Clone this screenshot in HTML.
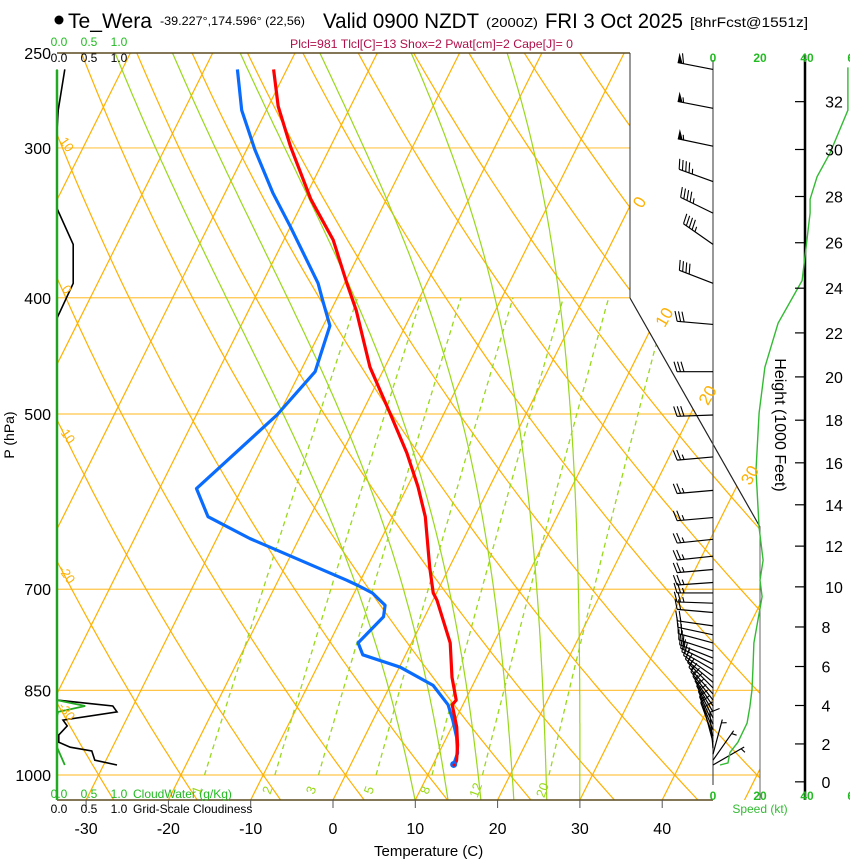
<!DOCTYPE html>
<html><head><meta charset="utf-8"><title>Skew-T Te_Wera</title>
<style>
html,body{margin:0;padding:0;background:#fff;}
svg{display:block;font-family:"Liberation Sans",Arial,sans-serif;}
</style></head>
<body>
<svg id="chart" width="850" height="860" viewBox="0 0 850 860" xmlns="http://www.w3.org/2000/svg">
<defs>
<clipPath id="plotClip"><polygon points="57,53 630,53 630,298 760,527 760,800 57,800"/></clipPath>
</defs>
<g id="title">
<circle cx="59" cy="20" r="4.5" fill="#000"/>
<text x="68" y="28" font-size="21" textLength="84" lengthAdjust="spacingAndGlyphs">Te_Wera</text>
<text x="160" y="25" font-size="12" textLength="145" lengthAdjust="spacingAndGlyphs">-39.227°,174.596° (22,56)</text>
<text x="323" y="28" font-size="21" textLength="156" lengthAdjust="spacingAndGlyphs">Valid 0900 NZDT</text>
<text x="486" y="27" font-size="13" textLength="52" lengthAdjust="spacingAndGlyphs">(2000Z)</text>
<text x="545" y="28" font-size="21" textLength="138" lengthAdjust="spacingAndGlyphs">FRI 3 Oct 2025</text>
<text x="690" y="27" font-size="14" textLength="118" lengthAdjust="spacingAndGlyphs">[8hrFcst@1551z]</text>
<text x="290" y="48" font-size="12" fill="#b0104a" textLength="283" lengthAdjust="spacingAndGlyphs">Plcl=981 Tlcl[C]=13 Shox=2 Pwat[cm]=2 Cape[J]= 0</text>
</g>
<g id="grid" clip-path="url(#plotClip)"></g>
<g id="frame"></g>
<g id="series"></g>
<g id="wind"></g>
<g id="labels"></g>
</svg>
<script>
// ---------- data ----------
const pressureTicks = [250, 300, 400, 500, 700, 850, 1000];
const tempTicks = [-30, -20, -10, 0, 10, 20, 30, 40];
const isotherms = [-120,-110,-100,-90,-80,-70,-60,-50,-40,-30,-20,-10,0,10,20,30,40,50];
const dryAdiabatsC = [-50,-40,-30,-20,-10,0,10,20,30,40,50,60,70,80,90,100,110,120,130,140,150,160,170,180];
const moistStartC = [10, 14, 18, 22, 26, 30];
const mixRatios = [1, 2, 3, 5, 8, 12, 20];
const mixLabels = ["1","2","3","5","8","12","20"];
const tempP = [258,277,299,331,358,389,410,457,499,539,575,609,671,705,715,776,829,866,874,912,944,972,981];
const tempC = [-51.6,-48.8,-44.9,-39.2,-34.0,-29.7,-26.9,-21.8,-16.6,-12.1,-8.7,-6.0,-2.4,-0.4,0.5,4.7,7.0,8.9,8.7,10.6,11.8,12.6,12.7];
const dewP = [258,279,301,327,349,389,402,422,461,501,577,609,635,688,695,705,722,738,776,794,813,842,874,900,930,959,980];
const dewC = [-56.0,-53.0,-49.0,-44.2,-40.0,-33.2,-31.6,-29.2,-28.2,-30.2,-35.5,-32.4,-26.0,-11.7,-10.0,-7.8,-5.5,-5.0,-6.5,-5.2,0.1,5.2,8.2,9.7,11.2,12.3,12.5];
const windP = [258,278,299,320,340,361,389,421,461,501,543,579,610,636,657,674,691,705,719,732,751,764,776,788,799,808,817,827,837,846,856,866,876,886,896,907,917,928,939,950,961,972,981];
const windDir = [281,281,282,290,296,305,291,275,270,268,265,265,265,264,264,265,266,270,272,275,278,282,285,288,292,296,300,305,310,315,318,322,326,330,333,336,338,340,345,355,15,35,60];
const windSpd = [60,55,55,45,45,45,40,30,30,30,25,25,25,25,25,25,25,25,25,20,20,20,20,20,20,20,20,20,15,15,15,15,15,15,15,15,15,10,10,10,5,5,5];
const speedP = [981,977,958,939,905,877,849,813,776,743,710,688,662,622,557,499,457,420,387,370,340,331,317,303,279,257];
const speedKt = [3.0,6.4,7.2,10.6,14.5,15.7,16.6,17.0,17.4,19.1,20.9,20.0,21.3,19.6,18.3,19.6,22.1,27.7,37.9,39.1,41.3,41.3,44.3,49.8,57.4,57.4];
const heightTicksKft = [0,2,4,6,8,10,12,14,16,18,20,22,24,26,28,30,32];
const speedTicks = [0, 20, 40, 60];
const cloudScale = ["0.0","0.5","1.0"];
const cloudScaleVals = [0, 0.5, 1.0];
const cloudP = [258,279,290,337,361,389,416,866,876,886,900,910,926,939,948,955,972,981];
const cloudFrac = [0.13,0.02,0,0,0.27,0.27,0,0,0.93,1.0,0.1,0.17,0.03,0.03,0.22,0.58,0.63,1.0];
const cwP = [258,866,876,886,893,948,981];
const cwVal = [0,0,0.47,0.02,0,0,0.13];

// ---------- axes ----------
const NS = "http://www.w3.org/2000/svg";
function yP(p){ return 53 + 520.8*Math.log(p/250); }
function xT(T,p){ return 333 + 8.23*T + 0.5*(800 - yP(p)); }
function xT_y(T,y){ return 333 + 8.23*T + 0.5*(800 - y); }
function xCloud(v){ return 57 + 60*v; }
function xSpd(s){ return 713 + 2.35*s; }
function pFromKft(h){ const m=h*304.8; return 1013.25*Math.pow(1-6.5e-3*m/288.15,5.256); }
function mk(tag, attrs, parent){ const e=document.createElementNS(NS,tag); for(const k in attrs) e.setAttribute(k,attrs[k]); parent.appendChild(e); return e; }
function pathD(pts){ return pts.map((q,i)=>(i?"L":"M")+q[0].toFixed(1)+","+q[1].toFixed(1)).join(""); }
const grid=document.getElementById("grid"), frame=document.getElementById("frame"), series=document.getElementById("series"), wind=document.getElementById("wind"), labels=document.getElementById("labels");
const ORANGE="#ffb000", GREEN="#99d81a";

pressureTicks.forEach(p=>{
  if(p===250) return;
  const l=mk("line",{x1:57,x2:760,y1:yP(p),y2:yP(p),stroke:"#ffc54a","stroke-width":1.2},grid);
  
  
});
isotherms.forEach(T=>{
  const l=mk("line",{x1:xT_y(T,800),y1:800,x2:xT_y(T,53),y2:53,stroke:ORANGE,"stroke-width":1.2},grid);
  
  
});
dryAdiabatsC.forEach(th=>{
  const pts=[]; for(let p=1060;p>=245;p-=10){ const T=(th+273.15)*Math.pow(p/1000,0.286)-273.15; pts.push([xT(T,p),yP(p)]); }
  const l=mk("path",{d:pathD(pts),fill:"none",stroke:ORANGE,"stroke-width":1.2},grid);
  
  
});
function esat(Tc){ return 6.112*Math.exp(17.67*Tc/(Tc+243.5)); }
moistStartC.forEach(t0=>{
  let T=t0+273.15, p=1050; const pts=[[xT(t0,p),yP(p)]];
  while(p>245){ const e=esat(T-273.15), rs=0.622*e/(p-e);
    const dTdp=(287*T+2.5e6*rs)/(p*(1004+2.5e6*2.5e6*rs*0.622/(287*T*T)));
    T-=dTdp*2; p-=2; pts.push([xT(T-273.15,p),yP(p)]); }
  const l=mk("path",{d:pathD(pts),fill:"none",stroke:GREEN,"stroke-width":1.2},grid);
  
  
});
mixRatios.forEach((w,i)=>{
  const pts=[]; for(let p=1000;p>=400;p-=10){ const e=w*p/(622+w), L=Math.log(e/6.112), Td=243.5*L/(17.67-L); pts.push([xT(Td,p),yP(p)]); }
  const l=mk("path",{d:pathD(pts),fill:"none",stroke:GREEN,"stroke-width":1.3,"stroke-dasharray":"5,4"},grid);
  
  
  const e=w*1030/(622+w), L=Math.log(e/6.112), Td=243.5*L/(17.67-L);
  const x=xT(Td,1030)-2, y=yP(1030);
  const t=mk("text",{x:x,y:y,"font-size":13,fill:GREEN,"text-anchor":"middle","dominant-baseline":"middle",transform:"rotate(-70 "+x+" "+y+")"},labels);
  t.textContent=mixLabels[i];
  
  
});

[[57,53,630,53,"#5a4a20",1.5],[630,53,630,298,"#333",1],[630,298,760,527,"#222",1.2],[760,527,760,800,"#666",1],[57,800,713,800,"#5a4a20",1.5],[713,60,713,785,"#555",1.2],[805,55,805,800,"#000",2.5]].forEach((a,i)=>{
  const l=mk("line",{x1:a[0],y1:a[1],x2:a[2],y2:a[3],stroke:a[4],"stroke-width":a[5]},frame);
  
  
});
const cax=mk("line",{x1:57,y1:70,x2:57,y2:800,stroke:"#22aa22","stroke-width":2.5},frame);



pressureTicks.forEach(p=>{
  const t=mk("text",{x:51,y:yP(p)+6,"font-size":16,"text-anchor":"end"},labels);
  t.textContent=p;
  
  
});
tempTicks.forEach(T=>{
  const x=xT_y(T,800);
  const l=mk("line",{x1:x,x2:x,y1:800,y2:808,stroke:"#555","stroke-width":1},labels);
  
  
  const t=mk("text",{x:x,y:834,"font-size":16,"text-anchor":"middle"},labels);
  t.textContent=T;
  
  
});
[[0,205],[10,320],[20,398],[30,478]].forEach(a=>{
  const x=xT_y(a[0],a[1])+14, y=a[1];
  const t=mk("text",{x:x,y:y,"font-size":17,fill:ORANGE,"text-anchor":"middle",transform:"rotate(-60 "+x+" "+y+")"},labels);
  t.textContent=a[0];
  
  
});
[[10,145],[0,290],[-10,435],[-20,575],[-30,712]].forEach(a=>{
  const x=66, y=a[1];
  const t=mk("text",{x:x,y:y,"font-size":13,fill:ORANGE,"text-anchor":"middle","dominant-baseline":"middle",transform:"rotate(55 "+x+" "+y+")"},labels);
  t.textContent=a[0];
  
  
});

// cloud scale labels (top & bottom)
cloudScale.forEach((s,i)=>{
  const x=xCloud(cloudScaleVals[i])+2;
  [[46,"#22bb22","cloudwater-scale-top-"],[62,"#000","cloudiness-scale-top-"],[798,"#22bb22","cloudwater-scale-bottom-"],[813,"#000","cloudiness-scale-bottom-"]].forEach(r=>{
    const t=mk("text",{x:x,y:r[0],"font-size":12,fill:r[1],"text-anchor":"middle"},labels);
    t.textContent=s;
    
    
  });
});

const cp=mk("path",{d:pathD(cloudP.map((p,i)=>[xCloud(cloudFrac[i]),yP(p)])),fill:"none",stroke:"#000","stroke-width":1.6},series);


const cw=mk("path",{d:pathD(cwP.map((p,i)=>[xCloud(cwVal[i]),yP(p)])),fill:"none",stroke:"#22aa22","stroke-width":1.8},series);



const dl=mk("path",{d:pathD(dewP.map((p,i)=>[xT(dewC[i],p),yP(p)])),fill:"none",stroke:"#0a6cff","stroke-width":3.2,"stroke-linejoin":"round"},series);


const tl=mk("path",{d:pathD(tempP.map((p,i)=>[xT(tempC[i],p),yP(p)])),fill:"none",stroke:"#ff0000","stroke-width":3.2,"stroke-linejoin":"round"},series);


const sd=mk("circle",{cx:xT(dewC[dewC.length-1],dewP[dewP.length-1]),cy:yP(dewP[dewP.length-1]),r:3.5,fill:"#0a6cff"},series);


const st=mk("circle",{cx:xT(tempC[tempC.length-1],tempP[tempP.length-1])-1,cy:yP(tempP[tempP.length-1]),r:1.5,fill:"#ff0000"},series);



windP.forEach((p,i)=>{
  const g=mk("g",{},wind);
  
  
  const d=windDir[i]*Math.PI/180, ux=Math.sin(d), uy=-Math.cos(d), L=36;
  const bx=713, by=yP(p), tx=bx+ux*L, ty=by+uy*L;
  mk("line",{x1:bx,y1:by,x2:tx,y2:ty,stroke:"#000","stroke-width":1.2},g);
  const px=-uy, py=ux;
  let s=Math.round(windSpd[i]/5)*5, pos=0;
  while(s>=50){ const ax=tx-ux*pos, ay=ty-uy*pos, cx=tx-ux*(pos+5), cy=ty-uy*(pos+5);
    mk("polygon",{points:ax+","+ay+" "+(ax+px*10)+","+(ay+py*10)+" "+cx+","+cy,fill:"#000"},g); pos+=6; s-=50; }
  while(s>=10){ const ax=tx-ux*pos, ay=ty-uy*pos;
    mk("line",{x1:ax,y1:ay,x2:ax+px*10+ux*3,y2:ay+py*10+uy*3,stroke:"#000","stroke-width":1.1},g); pos+=3.5; s-=10; }
  if(s>=5){ if(pos===0) pos=3.5; const ax=tx-ux*pos, ay=ty-uy*pos;
    mk("line",{x1:ax,y1:ay,x2:ax+px*5+ux*1.5,y2:ay+py*5+uy*1.5,stroke:"#000","stroke-width":1.1},g); }
});
const sp=mk("path",{d:pathD(speedP.map((p,i)=>[xSpd(speedKt[i]),yP(p)])),fill:"none",stroke:"#33bb33","stroke-width":1.4},wind);


speedTicks.forEach(s=>{
  [62,800].forEach(y=>{
    const t=mk("text",{x:xSpd(s),y:y,"font-size":12,"font-weight":"bold",fill:"#22bb22","text-anchor":"middle"},labels);
    t.textContent=s;
    
    
  });
});
heightTicksKft.forEach(h=>{
  const y=yP(pFromKft(h));
  const l=mk("line",{x1:805,x2:795,y1:y,y2:y,stroke:"#000","stroke-width":1.2},labels);
  
  
  const t=mk("text",{x:h<10?826:834,y:y+6,"font-size":16,"text-anchor":"middle"},labels);
  t.textContent=h;
  
  
});

function txt(x,y,s,str,fill,extra){ const t=document.createElementNS(NS,"text"); t.setAttribute("x",x); t.setAttribute("y",y); t.setAttribute("font-size",s); t.setAttribute("fill",fill); if(extra) for(const k in extra) t.setAttribute(k,extra[k]); t.textContent=str; labels.appendChild(t); return t; }
let tt;
tt=txt(133,798,12,"CloudWater (g/Kg)","#22bb22");


tt=txt(133,813,12,"Grid-Scale Cloudiness","#000");


tt=txt(374,856,15,"Temperature (C)","#000");


tt=txt(14,435,14,"P (hPa)","#000",{"text-anchor":"middle",transform:"rotate(-90 14 435)"});


tt=txt(775,425,16,"Height (1000 Feet)","#000",{"text-anchor":"middle",transform:"rotate(90 775 425)"});


tt=txt(760,813,12,"Speed (kt)","#33bb33",{"text-anchor":"middle"});


</script>
</body></html>
